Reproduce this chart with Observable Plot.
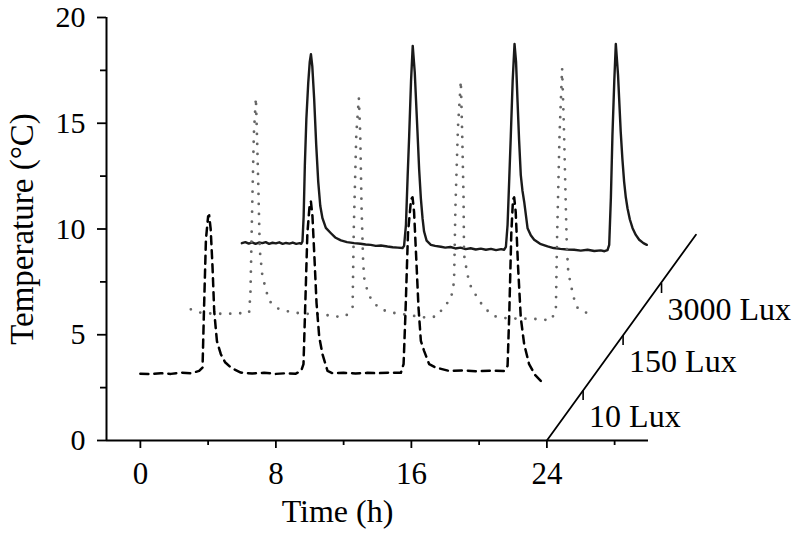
<!DOCTYPE html>
<html>
<head>
<meta charset="utf-8">
<script src="https://cdn.jsdelivr.net/npm/d3@7"></script>
<script src="https://cdn.jsdelivr.net/npm/@observablehq/plot@0.6"></script>
<style>
  html, body { margin: 0; padding: 0; background: #fff; }
  #chart { width: 796px; height: 544px; }
</style>
</head>
<body>
<div id="chart"></div>
<script>
// ---- Data ----
const seriesNames = ["10 Lux", "150 Lux", "3000 Lux"];

const time10 = [0,0.6,1.2,1.8,2.4,3.0,3.47,3.67,3.75,3.87,4.0,4.06,4.15,4.26,4.36,4.52,4.75,5.0,5.34,5.93,6.6,7.3,8.0,8.6,9.18,9.5,9.63,9.72,9.86,10.0,10.07,10.16,10.28,10.4,10.56,10.75,11.05,11.35,12.0,12.7,13.4,14.0,14.7,15.38,15.54,15.65,15.8,15.98,16.07,16.16,16.3,16.42,16.56,16.75,17.05,17.44,18.23,19.0,19.8,20.6,21.48,21.68,21.78,21.9,22.0,22.07,22.16,22.3,22.46,22.66,22.95,23.3,23.64,23.9];
const temp10 = [3.16,3.14,3.18,3.15,3.21,3.18,3.29,3.45,6.0,9.5,10.6,10.65,10.0,8.2,6.1,4.7,4.08,3.7,3.45,3.21,3.17,3.2,3.15,3.18,3.16,3.3,3.61,6.0,9.8,11.2,11.3,10.6,8.6,6.5,4.9,4.08,3.29,3.18,3.2,3.17,3.2,3.18,3.21,3.2,3.61,6.0,9.8,11.4,11.5,10.8,8.4,6.3,4.71,4.24,3.61,3.45,3.29,3.31,3.28,3.3,3.29,3.53,6.0,9.8,11.4,11.5,10.8,8.2,5.8,4.55,3.61,3.1,2.82,2.74];

const time150 = [2.98,3.5,4.34,5.5,6.42,6.5,6.6,6.7,6.82,6.9,6.98,7.05,7.2,7.41,7.6,8.13,8.88,9.57,10.85,11.44,12.13,12.53,12.6,12.75,12.9,12.98,13.06,13.15,13.21,13.41,13.67,14.2,14.89,15.57,16.26,16.95,17.54,17.93,18.33,18.52,18.6,18.75,18.92,19.0,19.08,19.11,19.31,19.51,19.9,20.3,20.88,21.68,22.95,23.64,24.23,24.53,24.6,24.75,24.9,25.0,25.12,25.18,25.26,25.41,25.71,26.0,26.34];
const temp150 = [6.2,6.05,5.99,6.0,6.04,7.0,11.0,14.5,16.2,14.0,11.5,9.0,7.8,7.14,6.6,6.24,6.07,6.0,5.96,5.85,5.88,6.3,10.0,14.5,16.2,14.5,11.0,8.5,7.69,7.06,6.59,6.2,6.04,5.96,5.88,5.8,5.88,6.35,6.67,7.5,11.0,14.8,17.0,14.5,11.5,8.78,7.84,7.29,6.74,6.27,5.88,5.77,5.76,5.73,5.68,6.12,9.5,14.5,17.6,15.0,11.0,9.1,8.0,7.37,6.35,6.15,6.04];

const time3000 = [5.99,6.2,6.4,6.6,6.8,7.0,7.2,7.4,7.6,7.8,8.0,8.2,8.4,8.6,8.8,9.0,9.2,9.4,9.5,9.57,9.64,9.71,9.8,9.91,10.0,10.07,10.15,10.26,10.38,10.5,10.62,10.75,10.95,11.25,11.5,11.84,12.2,12.62,13.0,13.3,13.6,13.9,14.2,14.59,14.9,15.2,15.48,15.57,15.68,15.78,15.87,15.98,16.08,16.2,16.36,16.46,16.56,16.66,16.75,16.9,17.15,17.4,17.74,18.0,18.3,18.6,18.9,19.2,19.5,19.8,20.1,20.4,20.7,21.0,21.3,21.48,21.58,21.68,21.78,21.87,21.98,22.09,22.18,22.27,22.36,22.46,22.56,22.66,22.86,23.05,23.25,23.6,24.04,24.4,24.8,25.2,25.61,26.0,26.4,26.8,27.18,27.4,27.58,27.68,27.78,27.87,27.98,28.07,28.2,28.36,28.46,28.56,28.66,28.76,28.9,29.06,29.25,29.45,29.7,29.9];
const temp3000 = [9.33,9.38,9.31,9.37,9.3,9.36,9.33,9.38,9.3,9.35,9.32,9.37,9.3,9.34,9.31,9.36,9.3,9.33,9.3,9.41,10.6,13.0,15.2,16.9,17.9,18.27,17.7,16.16,14.0,12.24,11.1,10.51,10.05,9.8,9.6,9.46,9.38,9.33,9.3,9.27,9.25,9.2,9.22,9.17,9.14,9.12,9.1,9.2,10.2,12.5,14.4,17.0,18.66,17.4,14.6,12.8,11.45,10.5,9.88,9.45,9.25,9.2,9.16,9.12,9.15,9.08,9.12,9.05,9.09,9.03,9.07,9.02,9.06,9.0,9.05,9.02,9.15,10.2,12.4,14.4,17.0,18.75,17.9,16.0,14.2,12.55,11.8,11.29,10.04,9.7,9.49,9.3,9.18,9.1,9.06,9.03,9.02,8.98,9.02,8.96,8.99,8.95,9.0,9.25,11.5,14.4,17.0,18.75,17.3,14.59,13.3,12.24,11.5,10.98,10.45,10.04,9.72,9.49,9.33,9.25];

// Axis tick values
const yMajorTicks = [0, 5, 10, 15, 20];
const yMinorTicks = [2.5, 7.5, 12.5, 17.5];
const xMajorTicks = [0, 8, 16, 24];
const xMinorTicks = [4, 12, 20, 28];

// Oblique (depth) axis: end points and tick points in data units
const depthAxisTime = [24, 32.8];
const depthAxisTemp = [0, 9.73];
const depthTickTime = [26.14, 28.5, 30.77];
const depthTickTemp = [2.36, 4.96, 7.42];

const yTitle = "Temperature (°C)";
const xTitle = "Time (h)";

// ---- Build tables ----
const zip = (ts, vs) => ts.map((t, i) => ({t, v: vs[i]}));
const s10 = zip(time10, temp10);
const s150 = zip(time150, temp150);
const s3000 = zip(time3000, temp3000);
const depthAxis = zip(depthAxisTime, depthAxisTemp);
const depthTicks = depthTickTime.map((t, i) => ({t, v: depthTickTemp[i], label: seriesNames[i]}));

const FONT = "'Liberation Serif', 'Times New Roman', serif";

const chart = Plot.plot({
  width: 796,
  height: 544,
  marginLeft: 106,
  marginRight: 148,
  marginTop: 17,
  marginBottom: 104,
  style: {fontFamily: FONT, fontSize: "30px", color: "#000", background: "#fff", overflow: "visible"},
  x: {domain: [-2, 30], axis: null},
  y: {domain: [0, 20], axis: null},
  marks: [
    // axis lines
    Plot.ruleX([-2], {y1: 0, y2: 20, stroke: "#000", strokeWidth: 2}),
    Plot.ruleY([0], {x1: -2, x2: 30, stroke: "#000", strokeWidth: 2}),
    // y ticks
    Plot.axisY(yMajorTicks, {anchor: "left", tickSize: 9, tickPadding: 12, strokeWidth: 1.8, fontSize: 30, label: null}),
    Plot.axisY(yMinorTicks, {anchor: "left", tickSize: 6, tickFormat: () => "", strokeWidth: 1.8, label: null}),
    // x ticks
    Plot.axisX(xMajorTicks, {anchor: "bottom", tickSize: 8, tickPadding: 13, strokeWidth: 1.8, fontSize: 31, label: null}),
    Plot.axisX(xMinorTicks, {anchor: "bottom", tickSize: 5, tickFormat: () => "", strokeWidth: 1.8, label: null}),
    // oblique depth axis
    Plot.line(depthAxis, {x: "t", y: "v", stroke: "#000", strokeWidth: 1.8}),
    Plot.ruleX(depthTicks, {x: "t", y1: "v", y2: d => d.v - 0.47, stroke: "#000", strokeWidth: 1.6}),
    Plot.text(depthTicks, {x: "t", y: "v", text: "label", textAnchor: "start", dx: 6, dy: 26, fontSize: 32, fill: "#000"}),
    // series
    Plot.line(s3000, {x: "t", y: "v", stroke: "#1a1a1a", strokeWidth: 2.4, strokeLinejoin: "round"}),
    Plot.line(s150, {x: "t", y: "v", stroke: "#666", strokeWidth: 2.8, strokeDasharray: "0,10", strokeLinecap: "round"}),
    Plot.line(s10, {x: "t", y: "v", stroke: "#000", strokeWidth: 2.5, strokeDasharray: "8,6"}),
    // titles
    Plot.text([yTitle], {frameAnchor: "left", textAnchor: "middle", rotate: -90, dx: -84, fontSize: 33, fill: "#000"}),
    Plot.text([xTitle], {frameAnchor: "bottom", textAnchor: "middle", dx: -40, dy: 81, fontSize: 32, fill: "#000"})
  ]
});
document.getElementById("chart").appendChild(chart);
</script>
</body>
</html>
